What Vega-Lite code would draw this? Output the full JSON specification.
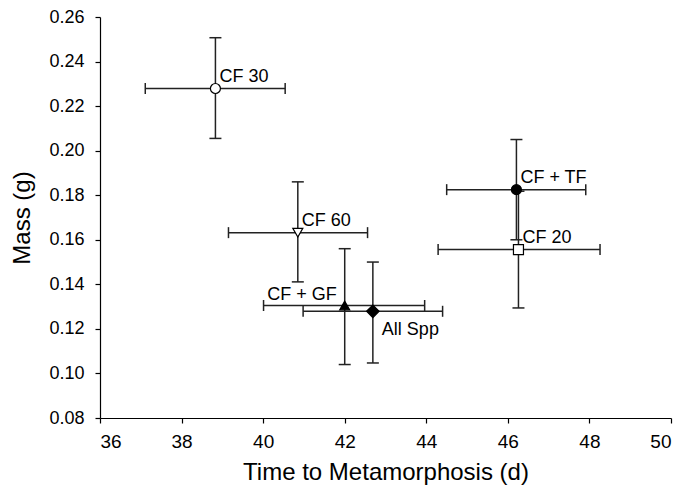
{
  "$schema": "https://vega.github.io/schema/vega-lite/v6.json",
  "width": 571,
  "height": 401,
  "autosize": {"type": "none"},
  "padding": {"left": 100, "top": 17, "right": 13, "bottom": 77},
  "background": "white",
  "config": {
    "view": {"stroke": null},
    "font": "Liberation Sans",
    "axis": {
      "grid": false,
      "domainColor": "black",
      "tickColor": "black",
      "labelColor": "black",
      "titleColor": "black",
      "labelFont": "Liberation Sans",
      "titleFont": "Liberation Sans",
      "titleFontWeight": "normal",
      "domainWidth": 1.2,
      "tickWidth": 1.2,
      "tickSize": 5
    }
  },
  "data": {
    "values": [
      {"name": "CF 30", "x": 38.83, "xlo": 37.11, "xhi": 40.54, "y": 0.2279, "ylo": 0.2055, "yhi": 0.2507},
      {"name": "CF 60", "x": 40.85, "xlo": 39.15, "xhi": 42.56, "y": 0.1632, "ylo": 0.1411, "yhi": 0.186},
      {"name": "CF + GF", "x": 42.0, "xlo": 40.01, "xhi": 43.96, "y": 0.1305, "ylo": 0.104, "yhi": 0.156},
      {"name": "All Spp", "x": 42.69, "xlo": 40.98, "xhi": 44.4, "y": 0.1279, "ylo": 0.1047, "yhi": 0.15},
      {"name": "CF + TF", "x": 46.21, "xlo": 44.5, "xhi": 47.91, "y": 0.1825, "ylo": 0.16, "yhi": 0.205},
      {"name": "CF 20", "x": 46.26, "xlo": 44.29, "xhi": 48.26, "y": 0.1556, "ylo": 0.1294, "yhi": 0.1818}
    ]
  },
  "layer": [
    {
      "mark": {"type": "rule", "color": "#222", "strokeWidth": 1.5},
      "encoding": {
        "x": {
          "field": "xlo", "type": "quantitative",
          "scale": {"domain": [36, 50], "nice": false, "zero": false},
          "axis": {
            "values": [36, 38, 40, 42, 44, 46, 48, 50],
            "labelFontSize": 19,
            "labelPadding": 9,
            "title": "Time to Metamorphosis (d)",
            "titleFontSize": 24,
            "titleY": 61,
            "titleBaseline": "alphabetic"
          }
        },
        "x2": {"field": "xhi"},
        "y": {
          "field": "y", "type": "quantitative",
          "scale": {"domain": [0.08, 0.26], "nice": false, "zero": false},
          "axis": {
            "values": [0.08, 0.10, 0.12, 0.14, 0.16, 0.18, 0.20, 0.22, 0.24, 0.26],
            "format": ".2f",
            "labelFontSize": 18,
            "labelPadding": 11,
            "title": "Mass (g)",
            "titleFontSize": 24,
            "titleX": -78,
            "titleBaseline": "middle"
          }
        }
      }
    },
    {
      "mark": {"type": "rule", "color": "#222", "strokeWidth": 1.5},
      "encoding": {
        "x": {"field": "x", "type": "quantitative"},
        "y": {"field": "ylo", "type": "quantitative"},
        "y2": {"field": "yhi"}
      }
    },
    {
      "mark": {"type": "tick", "orient": "vertical", "size": 11, "thickness": 1.5, "color": "#222", "opacity": 1},
      "encoding": {
        "x": {"field": "xlo", "type": "quantitative"},
        "y": {"field": "y", "type": "quantitative"}
      }
    },
    {
      "mark": {"type": "tick", "orient": "vertical", "size": 11, "thickness": 1.5, "color": "#222", "opacity": 1},
      "encoding": {
        "x": {"field": "xhi", "type": "quantitative"},
        "y": {"field": "y", "type": "quantitative"}
      }
    },
    {
      "mark": {"type": "tick", "orient": "horizontal", "size": 12, "thickness": 1.5, "color": "#222", "opacity": 1},
      "encoding": {
        "x": {"field": "x", "type": "quantitative"},
        "y": {"field": "ylo", "type": "quantitative"}
      }
    },
    {
      "mark": {"type": "tick", "orient": "horizontal", "size": 12, "thickness": 1.5, "color": "#222", "opacity": 1},
      "encoding": {
        "x": {"field": "x", "type": "quantitative"},
        "y": {"field": "yhi", "type": "quantitative"}
      }
    },
    {
      "mark": {"type": "point", "filled": true, "stroke": "black", "strokeWidth": 1.2, "opacity": 1, "size": 100},
      "encoding": {
        "x": {"field": "x", "type": "quantitative"},
        "y": {"field": "y", "type": "quantitative"},
        "shape": {
          "field": "name", "type": "nominal", "legend": null,
          "scale": {
            "domain": ["CF 30", "CF 60", "CF + GF", "All Spp", "CF + TF", "CF 20"],
            "range": ["circle", "triangle-down", "triangle-up", "M-1.25,0L0,-1.25L1.25,0L0,1.25Z", "circle", "square"]
          }
        },
        "fill": {
          "field": "name", "type": "nominal", "legend": null,
          "scale": {
            "domain": ["CF 30", "CF 60", "CF + GF", "All Spp", "CF + TF", "CF 20"],
            "range": ["white", "white", "black", "black", "black", "white"]
          }
        }
      }
    },
    {
      "transform": [{"filter": {"field": "name", "oneOf": ["CF 30", "CF 60", "CF + TF", "CF 20"]}}],
      "mark": {"type": "text", "align": "left", "baseline": "alphabetic", "dx": 4, "dy": -7, "fontSize": 18, "color": "black", "font": "Liberation Sans"},
      "encoding": {
        "x": {"field": "x", "type": "quantitative"},
        "y": {"field": "y", "type": "quantitative"},
        "text": {"field": "name"}
      }
    },
    {
      "transform": [{"filter": {"field": "name", "equal": "CF + GF"}}],
      "mark": {"type": "text", "align": "right", "baseline": "alphabetic", "dx": -8, "dy": -5, "fontSize": 18, "color": "black", "font": "Liberation Sans"},
      "encoding": {
        "x": {"field": "x", "type": "quantitative"},
        "y": {"field": "y", "type": "quantitative"},
        "text": {"field": "name"}
      }
    },
    {
      "transform": [{"filter": {"field": "name", "equal": "All Spp"}}],
      "mark": {"type": "text", "align": "left", "baseline": "alphabetic", "dx": 9, "dy": 24, "fontSize": 18, "color": "black", "font": "Liberation Sans"},
      "encoding": {
        "x": {"field": "x", "type": "quantitative"},
        "y": {"field": "y", "type": "quantitative"},
        "text": {"field": "name"}
      }
    }
  ]
}
